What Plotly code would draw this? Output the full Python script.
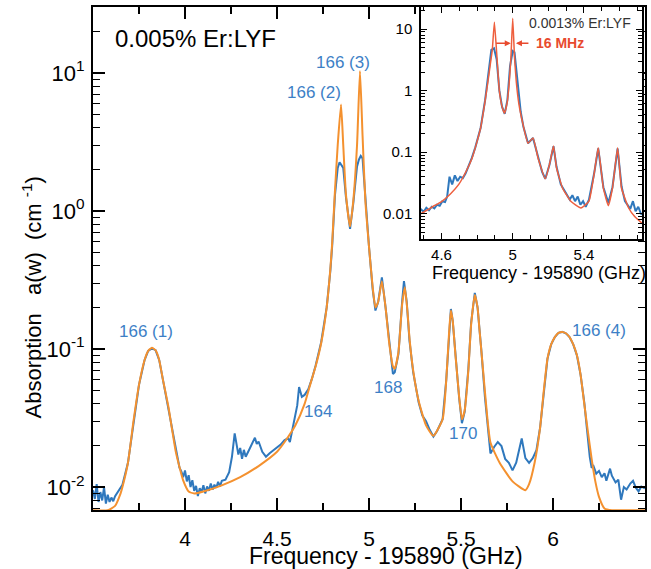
import plotly.graph_objects as go

# ---------------- data ----------------
# Main panel: measured absorption (blue)
data_freq = [3.500, 3.510, 3.520, 3.530, 3.540, 3.550, 3.560, 3.570, 3.580, 3.590,
             3.600, 3.610, 3.620, 3.640, 3.660, 3.690, 3.720, 3.750, 3.780, 3.800,
             3.820, 3.840, 3.860, 3.880, 3.910, 3.930, 3.950, 3.960, 3.970, 3.980,
             3.990, 4.000, 4.010, 4.020, 4.030, 4.040, 4.050, 4.060, 4.070, 4.080,
             4.090, 4.100, 4.110, 4.120, 4.130, 4.140, 4.150, 4.160, 4.170, 4.180,
             4.190, 4.200, 4.220, 4.240, 4.255, 4.270, 4.280, 4.290, 4.300, 4.310,
             4.320, 4.330, 4.350, 4.370, 4.380, 4.390, 4.400, 4.420, 4.440, 4.460,
             4.480, 4.500, 4.520, 4.540, 4.560, 4.570, 4.590, 4.610, 4.620, 4.635,
             4.650, 4.670, 4.690, 4.710, 4.740, 4.770, 4.790, 4.800, 4.815, 4.830,
             4.840, 4.850, 4.860, 4.875, 4.897, 4.915, 4.935, 4.945, 4.955, 4.965,
             4.980, 5.000, 5.020, 5.035, 5.050, 5.070, 5.090, 5.110, 5.130, 5.140,
             5.160, 5.180, 5.190, 5.205, 5.220, 5.240, 5.270, 5.290, 5.310, 5.330,
             5.350, 5.370, 5.400, 5.420, 5.435, 5.445, 5.455, 5.470, 5.490, 5.505,
             5.520, 5.540, 5.555, 5.575, 5.590, 5.610, 5.630, 5.650, 5.660, 5.680,
             5.700, 5.720, 5.740, 5.760, 5.780, 5.800, 5.810, 5.830, 5.850, 5.870,
             5.890, 5.910, 5.930, 5.950, 5.970, 5.990, 6.010, 6.030, 6.050, 6.070,
             6.090, 6.110, 6.130, 6.150, 6.170, 6.185, 6.200, 6.210, 6.220, 6.235,
             6.250, 6.265, 6.280, 6.290, 6.310, 6.320, 6.340, 6.355, 6.370, 6.385,
             6.400, 6.420, 6.435, 6.450, 6.465, 6.480, 6.500]
data_abs = [0.0095, 0.0082, 0.0105, 0.0078, 0.0092, 0.0080, 0.0100, 0.0076, 0.0088, 0.0078,
            0.0084, 0.0079, 0.0086, 0.0094, 0.0104, 0.0150, 0.030, 0.055, 0.083, 0.097,
            0.101, 0.098, 0.083, 0.060, 0.038, 0.027, 0.019, 0.0165, 0.0138, 0.0130,
            0.0118, 0.0132, 0.0110, 0.0122, 0.0100, 0.0112, 0.0094, 0.0102, 0.0086, 0.0098,
            0.0092, 0.0103, 0.0090, 0.0101, 0.0094, 0.0106, 0.0096, 0.0104, 0.0099, 0.0109,
            0.0101, 0.0111, 0.0113, 0.0128, 0.0165, 0.0245, 0.0210, 0.0172, 0.0192, 0.0160,
            0.0186, 0.0166, 0.0188, 0.0215, 0.0228, 0.0205, 0.0214, 0.0180, 0.0166, 0.0176,
            0.0184, 0.0192, 0.0203, 0.0218, 0.0226, 0.0212, 0.0285, 0.0390, 0.0530, 0.0450,
            0.0465, 0.0510, 0.0610, 0.0760, 0.112, 0.200, 0.370, 0.560, 1.30, 2.05,
            2.25, 2.15, 2.05, 1.25, 0.74, 1.15, 2.10, 2.35, 2.50, 2.40,
            1.20, 0.55, 0.27, 0.19, 0.22, 0.33, 0.20, 0.108, 0.066, 0.068,
            0.092, 0.22, 0.31, 0.22, 0.115, 0.068, 0.041, 0.033, 0.030, 0.026,
            0.0232, 0.0255, 0.031, 0.060, 0.135, 0.195, 0.160, 0.088, 0.044, 0.029,
            0.035, 0.072, 0.155, 0.255, 0.200, 0.100, 0.045, 0.024, 0.0175, 0.0195,
            0.0212, 0.0198, 0.0160, 0.0150, 0.0132, 0.0150, 0.0172, 0.0225, 0.0162, 0.0150,
            0.0162, 0.0185, 0.0270, 0.050, 0.085, 0.108, 0.122, 0.131, 0.133, 0.130,
            0.122, 0.108, 0.090, 0.065, 0.041, 0.026, 0.0165, 0.0138, 0.0142, 0.0125,
            0.0131, 0.0118, 0.0126, 0.0111, 0.0136, 0.0121, 0.0108, 0.0113, 0.0081, 0.0100,
            0.0096, 0.0106, 0.0111, 0.0099, 0.0093, 0.0101, 0.0098]

# Main panel: fitted absorption (orange)
fit_freq = [3.50, 3.58, 3.62, 3.65, 3.66, 3.69, 3.72, 3.75, 3.78, 3.80,
            3.82, 3.84, 3.86, 3.88, 3.91, 3.93, 3.95, 3.97, 3.99, 4.02,
            4.05, 4.10, 4.20, 4.30, 4.40, 4.50, 4.55, 4.60, 4.65, 4.68,
            4.71, 4.74, 4.77, 4.79, 4.80, 4.815, 4.83, 4.848, 4.86, 4.875,
            4.897, 4.915, 4.935, 4.951, 4.965, 4.98, 5.00, 5.02, 5.035, 5.05,
            5.07, 5.09, 5.11, 5.13, 5.14, 5.16, 5.18, 5.195, 5.21, 5.22,
            5.24, 5.27, 5.31, 5.35, 5.40, 5.42, 5.435, 5.445, 5.455, 5.47,
            5.49, 5.505, 5.52, 5.54, 5.555, 5.575, 5.59, 5.60, 5.62, 5.64,
            5.66, 5.71, 5.78, 5.85, 5.87, 5.90, 5.93, 5.95, 5.97, 5.99,
            6.01, 6.03, 6.05, 6.07, 6.09, 6.11, 6.13, 6.15, 6.17, 6.19,
            6.21, 6.23, 6.25, 6.28, 6.32, 6.40, 6.50]
fit_abs = [0.0068, 0.0068, 0.0073, 0.0090, 0.0100, 0.0150, 0.030, 0.055, 0.083, 0.097,
           0.102, 0.098, 0.083, 0.060, 0.038, 0.026, 0.018, 0.0140, 0.0112, 0.0093,
           0.0090, 0.0093, 0.0103, 0.0118, 0.0142, 0.0180, 0.0220, 0.0280, 0.040, 0.055,
           0.075, 0.110, 0.200, 0.380, 0.590, 1.40, 3.0, 5.9, 3.0, 1.30,
           0.77, 1.20, 3.0, 10.3, 3.5, 1.20, 0.55, 0.28, 0.20, 0.22,
           0.31, 0.20, 0.110, 0.075, 0.072, 0.095, 0.21, 0.28, 0.18, 0.120,
           0.070, 0.042, 0.028, 0.0235, 0.031, 0.060, 0.130, 0.190, 0.160, 0.090,
           0.045, 0.031, 0.036, 0.070, 0.150, 0.246, 0.20, 0.14, 0.070, 0.035,
           0.021, 0.015, 0.011, 0.0095, 0.0105, 0.015, 0.027, 0.050, 0.085, 0.108,
           0.122, 0.131, 0.133, 0.130, 0.122, 0.108, 0.090, 0.065, 0.040, 0.025,
           0.016, 0.011, 0.0085, 0.0070, 0.0068, 0.0068, 0.0068]

# Inset: measured (blue) and fit (red), 0.0013% sample
inset_data_freq = [4.473, 4.485, 4.500, 4.515, 4.530, 4.545, 4.560, 4.575, 4.590, 4.605,
                   4.620, 4.632, 4.645, 4.660, 4.675, 4.690, 4.705, 4.720, 4.735, 4.750,
                   4.770, 4.790, 4.820, 4.845, 4.865, 4.880, 4.895, 4.910, 4.925, 4.940,
                   4.955, 4.970, 4.985, 5.000, 5.010, 5.025, 5.045, 5.060, 5.086, 5.114,
                   5.143, 5.165, 5.183, 5.206, 5.229, 5.246, 5.270, 5.300, 5.320, 5.335,
                   5.350, 5.365, 5.380, 5.395, 5.410, 5.428, 5.457, 5.480, 5.509, 5.537,
                   5.560, 5.589, 5.611, 5.630, 5.645, 5.660, 5.675, 5.690, 5.705, 5.720,
                   5.737]
inset_data_abs = [0.0110, 0.0118, 0.0108, 0.0125, 0.0114, 0.0130, 0.0122, 0.0140, 0.0135, 0.0160,
                  0.0155, 0.0190, 0.0400, 0.0300, 0.0420, 0.0340, 0.0400, 0.0380, 0.0450, 0.0560,
                  0.080, 0.120, 0.25, 0.70, 2.0, 4.6, 4.9, 3.2, 1.0, 0.55,
                  0.42, 0.70, 2.5, 4.4, 4.2, 1.6, 0.45, 0.26, 0.14, 0.17,
                  0.080, 0.048, 0.037, 0.062, 0.125, 0.058, 0.030, 0.021, 0.017, 0.020,
                  0.016, 0.019, 0.014, 0.016, 0.013, 0.017, 0.045, 0.115, 0.027, 0.015,
                  0.027, 0.115, 0.028, 0.016, 0.014, 0.012, 0.016, 0.011, 0.013, 0.010,
                  0.0095]
inset_fit_freq = [4.473, 4.520, 4.550, 4.600, 4.650, 4.697, 4.740, 4.771, 4.800, 4.820,
                  4.840, 4.859, 4.875, 4.885, 4.897, 4.909, 4.925, 4.940, 4.954, 4.968,
                  4.980, 4.990, 5.000, 5.010, 5.020, 5.035, 5.057, 5.086, 5.114, 5.143,
                  5.183, 5.206, 5.229, 5.246, 5.280, 5.326, 5.383, 5.428, 5.457, 5.480,
                  5.509, 5.537, 5.560, 5.589, 5.611, 5.651, 5.686, 5.737]
inset_fit_abs = [0.0096, 0.0115, 0.0130, 0.0158, 0.021, 0.030, 0.050, 0.079, 0.15, 0.25,
                 0.55, 1.29, 2.8, 4.5, 13.0, 4.5, 1.0, 0.55, 0.43, 0.62,
                 1.3, 3.5, 15.0, 3.5, 1.4, 0.60, 0.29, 0.14, 0.17, 0.079,
                 0.037, 0.063, 0.126, 0.056, 0.026, 0.016, 0.0124, 0.016, 0.044, 0.118,
                 0.026, 0.0135, 0.026, 0.118, 0.026, 0.0124, 0.0089, 0.0066]

main_xticks = [4, 4.5, 5, 5.5, 6]
main_xticktext = ["4", "4.5", "5", "5.5", "6"]
main_yticks = [0.01, 0.1, 1, 10]
main_yticktext = ["10<sup>-2</sup>", "10<sup>-1</sup>", "10<sup>0</sup>", "10<sup>1</sup>"]
inset_xticks = [4.6, 5.0, 5.4]
inset_xticktext = ["4.6", "5", "5.4"]
inset_yticks = [0.01, 0.1, 1, 10]
inset_yticktext = ["0.01", "0.1", "1", "10"]

# peak labels (frequency, log10 absorption, text)
peak_labels = [
    (3.788, -0.874, "166 (1)"),
    (4.701, 0.859, "166 (2)"),
    (4.859, 1.076, "166 (3)"),
    (4.723, -1.451, "164"),
    (5.103, -1.278, "168"),
    (5.511, -1.610, "170"),
    (6.250, -0.866, "166 (4)"),
]

# ---------------- styling ----------------
BLUE = "#2f78bd"
LABEL_BLUE = "#3d7fc6"
ORANGE = "#f4912f"
RED = "#ee5f3e"
FONT = "Liberation Sans, Arial, Helvetica, sans-serif"

minor_log = [k * 10.0 ** e for e in range(-3, 2) for k in range(2, 10)]
main_xminor = [3.75, 4.25, 4.75, 5.25, 5.75, 6.25]
inset_xminor = [4.5, 4.7, 4.8, 4.9, 5.1, 5.2, 5.3, 5.5, 5.6, 5.7]

fig = go.Figure()
fig.add_trace(go.Scatter(x=data_freq, y=data_abs, mode="lines",
                         line=dict(color=BLUE, width=2), xaxis="x", yaxis="y"))
fig.add_trace(go.Scatter(x=fit_freq, y=fit_abs, mode="lines",
                         line=dict(color=ORANGE, width=2, shape="spline", smoothing=0.5),
                         xaxis="x", yaxis="y"))
fig.add_trace(go.Scatter(x=inset_data_freq, y=inset_data_abs, mode="lines",
                         line=dict(color=BLUE, width=2), xaxis="x2", yaxis="y2"))
fig.add_trace(go.Scatter(x=inset_fit_freq, y=inset_fit_abs, mode="lines",
                         line=dict(color=RED, width=1.5, shape="spline", smoothing=0.4),
                         xaxis="x2", yaxis="y2"))

axis_common = dict(showline=True, linecolor="black", mirror="ticks", ticks="inside",
                   tickcolor="black", showgrid=False, zeroline=False, automargin=False)

fig.update_layout(
    width=651, height=569,
    margin=dict(l=93, r=6, t=7, b=59, autoexpand=False),
    paper_bgcolor="white", plot_bgcolor="white",
    showlegend=False,
    font=dict(family=FONT, color="black"),
    xaxis=dict(**axis_common, domain=[0, 1], anchor="y", range=[3.5, 6.5],
               tickmode="array", tickvals=main_xticks, ticktext=main_xticktext,
               linewidth=2, ticklen=12, tickwidth=1.5, ticklabelstandoff=9,
               tickfont=dict(size=21, family=FONT, color="black"),
               minor=dict(tickmode="array", tickvals=main_xminor, ticks="inside",
                          ticklen=7, tickwidth=1.5, tickcolor="black")),
    yaxis=dict(**axis_common, domain=[0, 1], anchor="x", type="log",
               range=[-2.166, 1.477],
               tickmode="array", tickvals=main_yticks, ticktext=main_yticktext,
               linewidth=2, ticklen=12, tickwidth=1.5, ticklabelstandoff=2,
               tickfont=dict(size=22, family=FONT, color="black"),
               minor=dict(tickmode="array", tickvals=minor_log, ticks="inside",
                          ticklen=7, tickwidth=1.2, tickcolor="black")),
    xaxis2=dict(**axis_common, domain=[0.5942, 0.9946], anchor="y2", range=[4.485, 5.726],
                tickmode="array", tickvals=inset_xticks, ticktext=inset_xticktext,
                linewidth=1.5, ticklen=6, tickwidth=1.2, ticklabelstandoff=1,
                tickfont=dict(size=15, family=FONT, color="black"),
                minor=dict(tickmode="array", tickvals=inset_xminor, ticks="inside",
                           ticklen=4, tickwidth=1, tickcolor="black")),
    yaxis2=dict(**axis_common, domain=[0.5388, 1.0], anchor="x2", type="log",
                range=[-2.41, 1.36],
                tickmode="array", tickvals=inset_yticks, ticktext=inset_yticktext,
                linewidth=1.5, ticklen=6, tickwidth=1.2, ticklabelstandoff=4,
                tickfont=dict(size=15, family=FONT, color="black"),
                minor=dict(tickmode="array", tickvals=minor_log, ticks="inside",
                           ticklen=4, tickwidth=1, tickcolor="black")),
)

annotations = []
for fx, fy, txt in peak_labels:
    annotations.append(dict(x=fx, y=fy, xref="x", yref="y", text=txt, showarrow=False,
                            font=dict(size=17, color=LABEL_BLUE, family=FONT),
                            xanchor="center", yanchor="middle"))

annotations += [
    dict(x=0.0362, y=0.938, xref="paper", yref="paper", text="0.005% Er:LYF",
         showarrow=False, xanchor="left", yanchor="middle",
         font=dict(size=24, color="black", family=FONT)),
    dict(x=0.531, y=-0.091, xref="paper", yref="paper", text="Frequency - 195890 (GHz)",
         showarrow=False, xanchor="center", yanchor="middle",
         font=dict(size=23, color="black", family=FONT)),
    dict(x=-0.110, y=0.423, xref="paper", yref="paper",
         text="Absorption   a(w)  (cm <sup>-1</sup>)", textangle=-90,
         showarrow=False, xanchor="center", yanchor="middle",
         font=dict(size=22, color="black", family=FONT)),
    dict(x=0.808, y=0.471, xref="paper", yref="paper", text="Frequency - 195890 (GHz)",
         showarrow=False, xanchor="center", yanchor="middle",
         font=dict(size=18, color="black", family=FONT)),
    dict(x=0.882, y=0.968, xref="paper", yref="paper", text="0.0013% Er:LYF",
         showarrow=False, xanchor="center", yanchor="middle",
         font=dict(size=14, color="#333333", family=FONT)),
    dict(x=0.846, y=0.928, xref="paper", yref="paper", text="<b>16 MHz</b>",
         showarrow=False, xanchor="center", yanchor="middle",
         font=dict(size=14, color="#e84a2e", family=FONT)),
    # arrows marking the linewidth
    dict(x=4.989, y=0.77, xref="x2", yref="y2", text="", showarrow=True,
         ax=-16, ay=0, arrowhead=2, arrowsize=0.8, arrowwidth=1.5, arrowcolor="#e84a2e"),
    dict(x=5.018, y=0.77, xref="x2", yref="y2", text="", showarrow=True,
         ax=14, ay=0, arrowhead=2, arrowsize=0.8, arrowwidth=1.5, arrowcolor="#e84a2e"),
]
fig.update_layout(annotations=annotations)

fig.write_html("out.html", config={"displayModeBar": False},
               post_script="document.body.style.margin='0px';document.body.style.overflow='hidden';")
